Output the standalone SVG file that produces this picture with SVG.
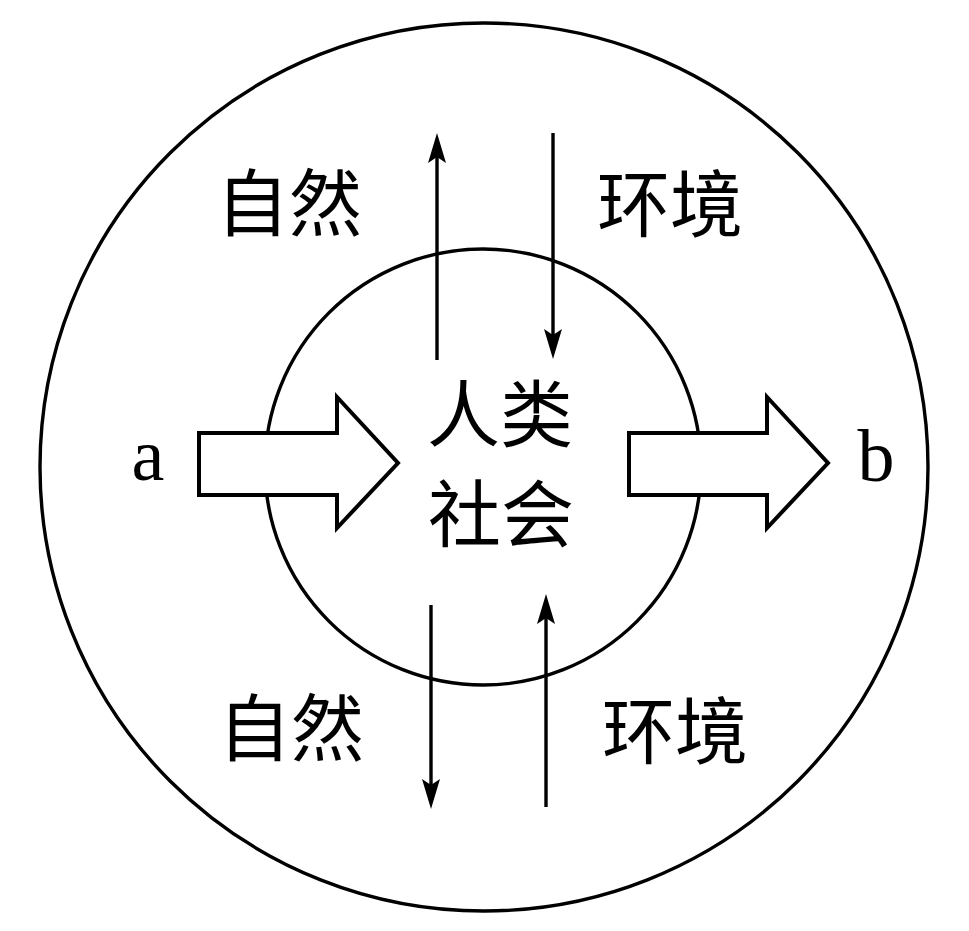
<svg xmlns="http://www.w3.org/2000/svg" width="969" height="931" viewBox="0 0 969 931">
<style>
.ring{fill:none;stroke:#000;stroke-width:3.4}
.big{fill:#fff;stroke:#000;stroke-width:4;stroke-linejoin:miter}
.flow{stroke:#000;stroke-width:3.4;fill:none;marker-end:url(#head)}
.cjk{font-family:"Noto Sans CJK SC","Noto Sans CJK JP",sans-serif;font-size:73px;fill:#000;text-anchor:middle}
.lat{font-family:"Liberation Serif",serif;font-size:74px;fill:#000;text-anchor:middle}
</style>
<defs>
<marker id="head" viewBox="-32 -10 34 20" refX="-10" refY="0" markerWidth="34" markerHeight="20" markerUnits="userSpaceOnUse" orient="auto">
<path d="M0,0 L-30,-9 L-24,0 L-30,9 Z" fill="#000"/>
</marker>
</defs>
<rect width="969" height="931" fill="#fff"/>
<g id="outer"><circle class="ring" cx="484" cy="467" r="444"/></g>
<g id="inner"><circle class="ring" cx="483" cy="467" r="218"/></g>
<g id="connectors">
<line class="flow" x1="437" y1="360" x2="437" y2="143"/>
<line class="flow" x1="553" y1="133" x2="553" y2="349"/>
<line class="flow" x1="431" y1="605" x2="431" y2="799"/>
<line class="flow" x1="546" y1="807" x2="546" y2="604"/>
</g>
<g id="arrow-a"><polygon class="big" points="199,433 337,433 337,397 398,463 337,528 337,495 199,495"/></g>
<g id="arrow-b"><polygon class="big" points="629,433 767,433 767,397 828,463 767,528 767,495 629,495"/></g>
<g id="label-a"><text class="lat" x="148" y="480">a</text></g>
<g id="label-b"><text class="lat" x="876" y="481">b</text></g>
<g id="nature-top"><text class="cjk" x="289" y="230">自然</text></g>
<g id="env-top"><text class="cjk" x="670" y="231">环境</text></g>
<g id="society"><text class="cjk" x="500" y="441">人类</text><text class="cjk" x="501" y="541">社会</text></g>
<g id="nature-bottom"><text class="cjk" x="291" y="755">自然</text></g>
<g id="env-bottom"><text class="cjk" x="675" y="758">环境</text></g>
</svg>
